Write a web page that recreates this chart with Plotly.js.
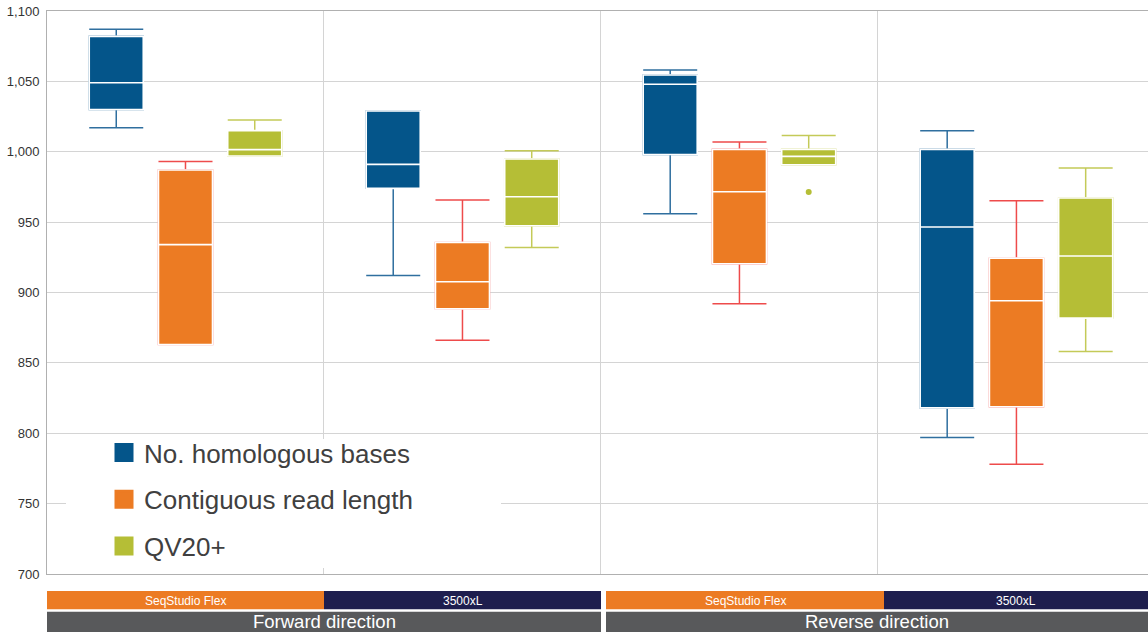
<!DOCTYPE html>
<html>
<head>
<meta charset="utf-8">
<script src="https://cdn.plot.ly/plotly-3.0.1.min.js"></script>
<style>html,body{margin:0;padding:0;background:#fff;}#chart{width:1148px;height:632px;}</style>
</head>
<body>
<div id="chart"></div>
<script>
// Categories (instrument x direction)
const categories = ['Forward · SeqStudio Flex', 'Forward · 3500xL', 'Reverse · SeqStudio Flex', 'Reverse · 3500xL'];
const instrumentLabels = ['SeqStudio Flex', '3500xL', 'SeqStudio Flex', '3500xL'];
const directionLabels = ['Forward direction', 'Reverse direction'];
const seriesNames = ['No. homologous bases', 'Contiguous read length', 'QV20+'];

// No. homologous bases
const homLower  = [1017, 912, 956, 797];
const homQ1     = [1030, 974, 998, 818];
const homMedian = [1049, 991, 1048, 946.5];
const homQ3     = [1082, 1029, 1054.5, 1001.7];
const homUpper  = [1087, 1029, 1058, 1015];

// Contiguous read length
const crlLower  = [863, 866, 892, 778];
const crlQ1     = [863, 888.4, 920.4, 818.8];
const crlMedian = [934, 907.6, 971.6, 894.1];
const crlQ3     = [987, 935.6, 1001.7, 924.4];
const crlUpper  = [993, 965.7, 1007, 965.2];

// QV20+
const qvLower  = [997, 932, 990.8, 858];
const qvQ1     = [997, 947.4, 990.8, 881.8];
const qvMedian = [1001.5, 968, 996.7, 925.9];
const qvQ3     = [1015, 994.8, 1001.7, 967.1];
const qvUpper  = [1022.5, 1000.7, 1011.6, 988.4];

// Outlier (QV20+, Reverse · SeqStudio Flex)
const qvOutlierX = ['Reverse · SeqStudio Flex'];
const qvOutlierY = [971.4];

const yTicks = [700, 750, 800, 850, 900, 950, 1000, 1050, 1100];

const fillColors = ['#04558a', '#ec7b23', '#b5be36'];
const whiskerColors = ['#2f6f9f', '#ee4b4b', '#c4ca58'];

const stats = [
  [homLower, homQ1, homMedian, homQ3, homUpper],
  [crlLower, crlQ1, crlMedian, crlQ3, crlUpper],
  [qvLower, qvQ1, qvMedian, qvQ3, qvUpper]
];
const groups = ['a', 'b', 'c'];

const traces = [];
stats.forEach((s, i) => {
  // whiskers + box
  traces.push({
    type: 'box', x: categories,
    lowerfence: s[0], q1: s[1], median: s[2], q3: s[3], upperfence: s[4],
    fillcolor: fillColors[i], line: {color: whiskerColors[i], width: 1.5},
    whiskerwidth: 1, boxpoints: false, showlegend: false, hoverinfo: 'skip',
    offsetgroup: groups[i], alignmentgroup: 'all'
  });
  // box body with white median
  traces.push({
    type: 'box', x: categories,
    lowerfence: s[1], q1: s[1], median: s[2], q3: s[3], upperfence: s[3],
    fillcolor: fillColors[i], line: {color: '#ffffff', width: 1.6},
    whiskerwidth: 0, boxpoints: false, showlegend: false, hoverinfo: 'skip',
    offsetgroup: groups[i], alignmentgroup: 'all'
  });
});
// outlier
traces.push({
  type: 'box', x: qvOutlierX, y: qvOutlierY,
  boxpoints: 'all', jitter: 0, pointpos: 0,
  marker: {color: fillColors[2], size: 6},
  fillcolor: 'rgba(0,0,0,0)', line: {color: 'rgba(0,0,0,0)', width: 0},
  showlegend: false, hoverinfo: 'skip',
  offsetgroup: 'c', alignmentgroup: 'all'
});
// legend entries
seriesNames.forEach((n, i) => {
  traces.push({
    type: 'scatter', mode: 'markers', x: [null], y: [null], name: n,
    marker: {symbol: 'square', size: 16, color: fillColors[i], line: {color: fillColors[i], width: 3}},
    legendgroup: 'g' + i
  });
});

const L = 47, R = 1148, T = 11, B = 574;
const px = v => (v - L) / (R - L);
const py = v => (B - v) / (B - T);

const shapes = [];
const annotations = [];
const bandX = [[47, 324], [324, 601], [606, 884], [884, 1148]];
const bandColors = ['#ec7b23', '#1e1e4e', '#ec7b23', '#1e1e4e'];
// white legend panel (hides gridlines behind the legend)
shapes.push({type: 'rect', xref: 'paper', yref: 'paper', x0: px(66), x1: px(501), y0: py(568), y1: py(439),
  fillcolor: '#ffffff', line: {width: 0}, layer: 'above'});
instrumentLabels.forEach((lab, i) => {
  shapes.push({type: 'rect', xref: 'paper', yref: 'paper', x0: px(bandX[i][0]), x1: px(bandX[i][1]),
    y0: py(591), y1: py(609.3), fillcolor: bandColors[i], line: {width: 0}});
  annotations.push({xref: 'paper', yref: 'paper', x: px((bandX[i][0] + bandX[i][1]) / 2), y: py(600.5),
    text: lab, showarrow: false, xanchor: 'center', yanchor: 'middle',
    font: {family: 'Liberation Sans, Arial, sans-serif', size: 12, color: '#ffffff'}});
});
const dirX = [[47, 601], [606, 1148]];
directionLabels.forEach((lab, i) => {
  shapes.push({type: 'rect', xref: 'paper', yref: 'paper', x0: px(dirX[i][0]), x1: px(dirX[i][1]),
    y0: py(611.7), y1: py(645), fillcolor: '#58595b', line: {width: 0}});
  annotations.push({xref: 'paper', yref: 'paper', x: px((dirX[i][0] + dirX[i][1]) / 2), y: py(621.5),
    text: lab, showarrow: false, xanchor: 'center', yanchor: 'middle', borderpad: 0,
    font: {family: 'Liberation Sans, Arial, sans-serif', size: 18.5, color: '#ffffff'}});
});

const layout = {
  width: 1148, height: 632,
  margin: {l: L, r: 1148 - R, t: T, b: 632 - B, pad: 0},
  paper_bgcolor: '#ffffff', plot_bgcolor: '#ffffff',
  font: {family: 'Liberation Sans, Arial, sans-serif', color: '#333333'},
  boxmode: 'group', boxgap: 0.25, boxgroupgap: 0.22,
  showlegend: true,
  legend: {x: px(104), y: py(429), xanchor: 'left', yanchor: 'top', bgcolor: 'rgba(0,0,0,0)',
    font: {size: 26, color: '#404040', family: 'Liberation Sans, Arial, sans-serif'},
    traceorder: 'grouped', tracegroupgap: 10, itemclick: false, itemdoubleclick: false},
  xaxis: {type: 'category', categoryorder: 'array', categoryarray: categories,
    range: [-0.5, 3.475], tickson: 'boundaries', showgrid: true, gridcolor: '#d4d4d4', gridwidth: 1,
    showticklabels: false, ticks: '', zeroline: false,
    showline: true, linecolor: '#b0b0b0', linewidth: 1, mirror: true, fixedrange: true},
  yaxis: {range: [700, 1100], tickvals: yTicks, tickformat: ',d', showgrid: true, gridcolor: '#d4d4d4', gridwidth: 1,
    ticks: '', ticklabelstandoff: 4, zeroline: false,
    showline: true, linecolor: '#b0b0b0', linewidth: 1, mirror: true,
    tickfont: {size: 13, color: '#333333'}, fixedrange: true},
  shapes: shapes, annotations: annotations
};

Plotly.newPlot('chart', traces, layout, {displayModeBar: false, staticPlot: true});
</script>
</body>
</html>
